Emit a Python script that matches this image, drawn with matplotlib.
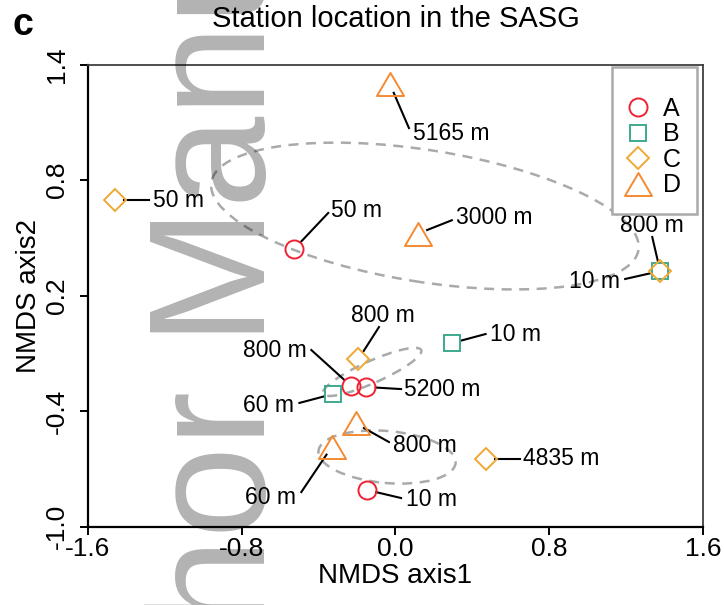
import matplotlib
matplotlib.use('Agg')
import matplotlib.pyplot as plt
from matplotlib.patches import Ellipse
from matplotlib.lines import Line2D
from matplotlib.path import Path
import numpy as np

plt.rcParams['font.family'] = ['Liberation Sans', 'DejaVu Sans']
plt.rcParams['axes.unicode_minus'] = False

# station positions (NMDS scores) per group
A_x = [-0.527, -0.231, -0.153, -0.149]
A_y = [0.443, -0.269, -0.274, -0.809]
A_lab = ['50 m', '800 m', '5200 m', '10 m']

B_x = [0.293, -0.326, 1.377]
B_y = [-0.046, -0.311, 0.328]
B_lab = ['10 m', '60 m', '800 m']

C_x = [-1.460, -0.193, 0.469, 1.377]
C_y = [0.697, -0.130, -0.648, 0.328]
C_lab = ['50 m', '800 m', '4835 m', '10 m']

D_x = [-0.029, 0.118, -0.208, -0.331]
D_y = [1.300, 0.523, -0.463, -0.584]
D_lab = ['5165 m', '3000 m', '800 m', '60 m']

# label placement: text position, end of leader line, alignment
A_tx = [-0.335, -0.464, 0.044, 0.054]
A_ty = [0.645, -0.082, -0.285, -0.861]
A_ex = [-0.350, -0.438, 0.029, 0.029]
A_ey = [0.630, -0.082, -0.285, -0.851]
A_ha = ['left', 'right', 'left', 'left']

B_tx = [0.490, -0.526, 1.336]
B_ty = [0.001, -0.368, 0.557]
B_ex = [0.469, -0.500, 1.336]
B_ey = [0.001, -0.357, 0.505]
B_ha = ['left', 'right', 'center']

C_tx = [-1.263, -0.065, 0.661, 1.170]
C_ty = [0.697, 0.100, -0.648, 0.276]
C_ex = [-1.284, -0.086, 0.646, 1.195]
C_ey = [0.697, 0.037, -0.648, 0.287]
C_ha = ['left', 'center', 'left', 'right']

D_tx = [0.091, 0.314, -0.013, -0.516]
D_ty = [1.045, 0.604, -0.576, -0.846]
D_ex = [0.070, 0.293, -0.034, -0.490]
D_ey = [1.071, 0.592, -0.560, -0.820]
D_ha = ['left', 'left', 'left', 'right']

# dashed group ellipses
ell_cx = [0.153, -0.122, -0.044]
ell_cy = [0.614, -0.196, -0.638]
ell_w = [2.25, 0.56, 0.716]
ell_h = [0.685, 0.114, 0.27]
ell_ang = [-9, 24, -5]

xticks = [-1.6, -0.8, 0.0, 0.8, 1.6]
xticklabels = ['-1.6', '-0.8', '0.0', '0.8', '1.6']
yticks = [1.4, 0.8, 0.2, -0.4, -1.0]
yticklabels = ['1.4', '0.8', '0.2', '-0.4', '-1.0']

# open triangle like R's pch 2
tri = Path([(-1, -0.85), (1, -0.85), (0, 0.85), (-1, -0.85)], closed=True)
groups = [
    ('A', A_x, A_y, A_lab, A_tx, A_ty, A_ex, A_ey, A_ha, 'o', 13, '#EE2233'),
    ('B', B_x, B_y, B_lab, B_tx, B_ty, B_ex, B_ey, B_ha, 's', 11.5, '#3EA98E'),
    ('C', C_x, C_y, C_lab, C_tx, C_ty, C_ex, C_ey, C_ha, 'D', 10.7, '#F0A832'),
    ('D', D_x, D_y, D_lab, D_tx, D_ty, D_ex, D_ey, D_ha, tri, 19.5, '#F58A32'),
]

fig = plt.figure(figsize=(7.24, 6.05), dpi=100)
ax = fig.add_axes([0.1215, 0.1294, 0.8495, 0.7636])

for cx, cy, w, h, a in zip(ell_cx, ell_cy, ell_w, ell_h, ell_ang):
    ax.add_patch(Ellipse((cx, cy), w, h, angle=a, fill=False,
                         edgecolor='#AAAAAA', lw=1.8, linestyle=(0, (4, 3)), zorder=1))

handles = []
for name, xs, ys, labs, tx, ty, ex, ey, ha, mk, ms, col in groups:
    for i in range(len(xs)):
        d = np.array([ex[i] - xs[i], ey[i] - ys[i]])
        u = d / np.hypot(*d)
        sx, sy = xs[i] + 0.05 * u[0], ys[i] + 0.05 * u[1]
        ax.plot([sx, ex[i]], [sy, ey[i]], color='black', lw=1.5, zorder=2)
        if ha[i] == 'center':
            ax.text(tx[i], ey[i], labs[i], ha='center', va='bottom', fontsize=16.5)
        else:
            ax.text(tx[i], ty[i], labs[i], ha=ha[i], va='center', fontsize=16.5)
    ax.plot(xs, ys, linestyle='none', marker=mk, markersize=ms,
            markerfacecolor='none', markeredgecolor=col, markeredgewidth=1.4, zorder=3)
    handles.append(Line2D([], [], linestyle='none', marker=mk, markersize=ms,
                          markerfacecolor='none', markeredgecolor=col, markeredgewidth=1.4))

ax.set_xlim(-1.6, 1.6)
ax.set_ylim(-1.0, 1.4)
ax.set_xticks(xticks)
ax.set_xticklabels(xticklabels, fontsize=19)
ax.set_yticks(yticks)
ax.set_yticklabels(yticklabels, fontsize=19, rotation=90, va='center')
ax.tick_params(axis='both', direction='out', length=6, width=1.4, color='black')
ax.tick_params(axis='x', pad=1.5)
ax.tick_params(axis='y', pad=8)

for s in ['left', 'bottom']:
    ax.spines[s].set_linewidth(1.6)
    ax.spines[s].set_color('black')
for s in ['top', 'right']:
    ax.spines[s].set_linewidth(1.3)
    ax.spines[s].set_color('#404040')

ax.set_xlabel('NMDS axis1', fontsize=20, labelpad=1)
ax.set_ylabel('NMDS axis2', fontsize=20, labelpad=2)
ax.set_title('Station location in the SASG', fontsize=21, pad=27)

leg = ax.legend(handles, ['A', 'B', 'C', 'D'], loc='upper right',
                bbox_to_anchor=(0.990, 0.995), borderaxespad=0, numpoints=1,
                fontsize=18, title=' ', title_fontsize=8.8, fancybox=False,
                edgecolor='#AAAAAA', framealpha=1, borderpad=0.65,
                labelspacing=0.06, handlelength=0.78, handletextpad=0.61)
leg.get_frame().set_linewidth(1.8)

fig.text(12 / 724, 1 - 35 / 605, 'c', fontsize=27, fontweight='bold', va='baseline')

# watermark of the source page
fig.text(265 / 724, 1 - 877 / 605, 'Author Manuscript', rotation=90,
         rotation_mode='anchor', ha='left', va='baseline', fontsize=118.8,
         color='black', alpha=0.3)

fig.savefig('out.png', dpi=100)
